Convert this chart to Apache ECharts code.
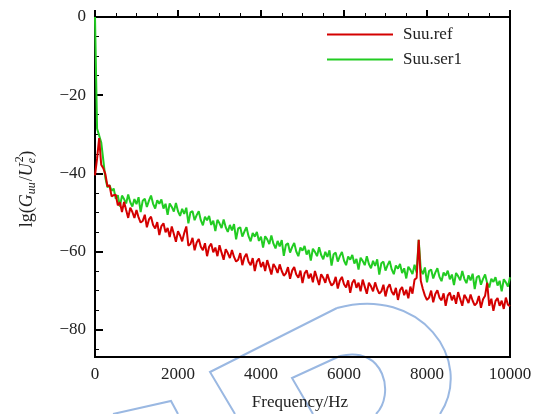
<!DOCTYPE html>
<html>
<head>
<meta charset="utf-8">
<script src="https://cdn.jsdelivr.net/npm/echarts@6/dist/echarts.min.js"></script>
<style>
  html, body { margin: 0; padding: 0; background: #fff; }
  #chart { width: 539px; height: 414px; }
</style>
</head>
<body>
<div id="chart"></div>
<script>
// Spectra sampled every 50 Hz from 0 to 10000 Hz (dB, lg scale)
const FREQ_STEP = 50;
const seriesNames = ['Suu.ref', 'Suu.ser1'];
const xTicks = [0, 2000, 4000, 6000, 8000, 10000];
const yTicks = [0, -20, -40, -60, -80];
const yMinorTicks = [-5, -10, -15, -25, -30, -35, -45, -50, -55, -65, -70, -75, -85];

const suuSer1 = [
  0, -28.6, -30.3, -32.1, -36.6, -41.2, -43.6, -43.0, -44.5, -43.9,
  -46.5, -45.6, -48.5, -45.7, -46.6, -47.7, -45.4, -47.4, -48.5, -46.6,
  -47.9, -46.1, -49.9, -47.0, -46.5, -48.6, -47.0, -45.7, -47.8, -49.0,
  -46.9, -47.8, -46.7, -49.0, -47.8, -50.6, -47.7, -48.6, -49.8, -47.6,
  -49.7, -50.9, -49.1, -50.4, -48.8, -52.8, -50.0, -49.7, -52.0, -50.7,
  -49.7, -52.0, -53.3, -51.1, -52.0, -50.9, -53.2, -52.1, -54.8, -51.9,
  -52.8, -54.0, -51.8, -53.8, -55.0, -53.2, -54.6, -53.0, -56.9, -54.1,
  -53.8, -56.2, -54.9, -53.8, -56.1, -57.4, -55.3, -56.2, -55.0, -57.3,
  -56.2, -59.0, -56.1, -56.9, -58.1, -55.9, -58.0, -59.2, -57.3, -58.7,
  -57.1, -61.1, -58.3, -57.9, -60.3, -58.9, -57.8, -60.0, -61.2, -59.0,
  -59.8, -58.6, -60.8, -59.6, -62.3, -59.3, -60.1, -61.2, -58.9, -60.9,
  -62.0, -60.1, -61.4, -59.7, -63.6, -60.7, -60.3, -62.6, -61.2, -60.1,
  -62.3, -63.5, -61.3, -62.1, -60.9, -63.1, -61.9, -64.6, -61.6, -62.4,
  -63.5, -61.2, -63.2, -64.3, -62.4, -63.7, -62.0, -65.9, -63.0, -62.6,
  -64.9, -63.5, -62.4, -64.6, -65.8, -63.6, -64.4, -63.2, -65.5, -64.3,
  -66.9, -63.9, -64.7, -65.8, -63.4, -65.4, -57.0, -64.5, -65.8, -64.1,
  -67.9, -65.0, -64.6, -66.9, -65.4, -64.3, -66.5, -67.6, -65.4, -66.2,
  -64.9, -67.1, -65.9, -68.6, -65.5, -66.3, -67.4, -65.0, -67.0, -68.1,
  -66.1, -67.4, -65.7, -69.6, -66.6, -66.2, -68.5, -67.0, -65.9, -68.1,
  -69.2, -67.0, -67.8, -66.6, -68.7, -67.5, -70.2, -67.1, -67.9, -69.0,
  -66.6
];

const suuRef = [
  -40.5, -36.2, -31.0, -37.8, -38.7, -40.2, -43.3, -43.1, -45.9, -45.6,
  -45.5, -48.2, -47.4, -49.9, -47.3, -49.4, -51.4, -48.8, -49.9, -51.4,
  -49.4, -51.3, -52.6, -52.2, -50.6, -53.8, -51.8, -51.1, -53.2, -54.1,
  -52.5, -55.8, -53.5, -52.8, -55.1, -54.0, -56.3, -53.6, -55.5, -57.5,
  -54.8, -55.9, -57.4, -55.3, -53.6, -58.5, -58.1, -56.5, -59.7, -57.7,
  -56.8, -58.8, -59.7, -57.9, -61.2, -58.8, -58.0, -60.2, -59.0, -61.2,
  -58.4, -60.3, -62.1, -59.4, -60.4, -61.7, -59.6, -61.4, -62.6, -62.1,
  -60.4, -63.5, -61.5, -60.6, -62.6, -63.5, -61.7, -65.0, -62.6, -61.8,
  -64.0, -62.7, -65.0, -62.2, -64.0, -65.9, -63.2, -64.1, -65.5, -63.3,
  -65.0, -66.2, -65.6, -64.0, -67.0, -64.9, -64.0, -65.9, -66.7, -64.9,
  -68.1, -65.6, -64.8, -66.9, -65.7, -67.9, -65.0, -66.8, -68.6, -65.8,
  -66.7, -68.0, -65.8, -67.5, -68.7, -68.2, -66.5, -69.5, -67.4, -66.5,
  -68.4, -69.2, -67.4, -70.6, -68.0, -67.2, -69.3, -68.0, -70.2, -67.2,
  -69.0, -70.8, -68.0, -68.9, -70.2, -67.9, -69.6, -70.8, -70.2, -68.5,
  -71.5, -69.3, -68.4, -70.3, -71.1, -69.3, -72.4, -69.9, -69.1, -71.2,
  -69.8, -72.0, -69.0, -70.8, -67.2, -66.8, -57.0, -67.5, -69.6, -71.3,
  -72.4, -71.8, -70.0, -73.0, -70.9, -69.9, -71.8, -72.5, -70.7, -73.9,
  -71.3, -70.5, -72.5, -71.2, -73.4, -70.4, -72.2, -73.9, -71.1, -72.0,
  -73.2, -71.0, -72.6, -73.8, -73.2, -71.4, -74.4, -72.2, -71.3, -68.0,
  -73.9, -72.1, -75.2, -72.7, -71.9, -73.9, -72.6, -74.7, -71.8, -73.6,
  -74.0
];

const toPairs = vals => vals.map((v, i) => [i * FREQ_STEP, v]);

const SERIF = '"Liberation Serif", "DejaVu Serif", serif';
const TXT = '#222';
const RED = '#d40000';
const GREEN = '#22cc22';
const minus = v => String(v).replace('-', '\u2212');

const chart = echarts.init(document.getElementById('chart'), null, { renderer: 'canvas' });

// y-axis title lg(G_uu / U_e^2): measured pieces laid out along a rotated group
const ctx = document.createElement('canvas').getContext('2d');
function textWidth(text, size, italic) {
  ctx.font = (italic ? 'italic ' : '') + size + 'px ' + SERIF;
  return ctx.measureText(text).width;
}
const BIG = 18, SMALL = 12;
const titleParts = [
  { t: 'lg(', s: BIG, i: false, dy: 0 },
  { t: 'G', s: BIG, i: true, dy: 0 },
  { t: 'uu', s: SMALL, i: true, dy: 5 },
  { t: '/', s: BIG, i: false, dy: 0, pre: 1 },
  { t: 'U', s: BIG, i: true, dy: 0 },
  { t: 'e', s: SMALL, i: true, dy: 5, stackWith: '2' },
  { t: ')', s: BIG, i: false, dy: 0, pre: 1 }
];
let total = 0;
titleParts.forEach(p => { p.w = textWidth(p.t, p.s, p.i) + (p.pre || 0); total += p.w; });
let cx = -total / 2;
const titleChildren = [];
titleParts.forEach(p => {
  titleChildren.push({
    type: 'text',
    x: cx + (p.pre || 0), y: p.dy,
    style: { text: p.t, font: (p.i ? 'italic ' : '') + p.s + 'px ' + SERIF,
             fill: TXT, textVerticalAlign: 'middle', textAlign: 'left' }
  });
  if (p.stackWith) {
    titleChildren.push({
      type: 'text',
      x: cx + 1, y: -7,
      style: { text: p.stackWith, font: SMALL + 'px ' + SERIF,
               fill: TXT, textVerticalAlign: 'middle', textAlign: 'left' }
    });
  }
  cx += p.w;
});

const wm = { stroke: '#9ab8e2', lineWidth: 2, fill: null };

chart.setOption({
  animation: false,
  backgroundColor: '#fff',
  grid: { left: 95, right: 29, top: 17, bottom: 57, show: true,
          borderColor: '#000', borderWidth: 2, backgroundColor: 'transparent' },
  legend: {
    orient: 'vertical', left: 327, top: 26, padding: 0,
    icon: 'rect', itemWidth: 66, itemHeight: 2, itemGap: 8,
    data: seriesNames,
    textStyle: { fontFamily: SERIF, fontSize: 17, lineHeight: 17, color: TXT, padding: [0, 0, 0, 5] }
  },
  xAxis: {
    type: 'value', min: 0, max: 10000, interval: 2000,
    axisLine: { show: true, lineStyle: { color: '#000', width: 2 } },
    axisTick: { show: true, inside: true, length: 7, lineStyle: { color: '#000', width: 2 } },
    minorTick: { show: true, splitNumber: 4, length: 4, lineStyle: { color: '#000', width: 1 } },
    splitLine: { show: false },
    axisLabel: { fontFamily: SERIF, fontSize: 17, color: TXT, margin: 9,
                 customValues: xTicks, formatter: v => minus(v) }
  },
  yAxis: [
    {
      type: 'value', min: -87, max: 0,
      axisLine: { show: true, lineStyle: { color: '#000', width: 2 } },
      axisTick: { show: true, inside: true, length: 8, customValues: yTicks,
                  lineStyle: { color: '#000', width: 2 } },
      splitLine: { show: false },
      axisLabel: { fontFamily: SERIF, fontSize: 17, color: TXT, margin: 9,
                   customValues: yTicks, formatter: v => minus(v) }
    },
    {
      type: 'value', min: -87, max: 0, position: 'left',
      axisLine: { show: false },
      axisTick: { show: true, inside: true, length: 4, customValues: yMinorTicks,
                  lineStyle: { color: '#000', width: 1 } },
      axisLabel: { show: false },
      splitLine: { show: false }
    }
  ],
  series: [
    {
      name: 'Suu.ser1', type: 'line', data: toPairs(suuSer1), z: 2,
      symbol: 'none', sampling: null,
      lineStyle: { color: GREEN, width: 2 }, itemStyle: { color: GREEN }
    },
    {
      name: 'Suu.ref', type: 'line', data: toPairs(suuRef), z: 3,
      symbol: 'none', sampling: null,
      lineStyle: { color: RED, width: 2 }, itemStyle: { color: RED }
    }
  ],
  graphic: [
    {
      type: 'text', x: 300, y: 403,
      style: { text: 'Frequency/Hz', font: '17px ' + SERIF, fill: TXT,
               textAlign: 'center', textVerticalAlign: 'middle' }
    },
    {
      type: 'group', x: 27, y: 189, rotation: Math.PI / 2,
      children: titleChildren
    },
    // light blue decorative strokes near the bottom
    { type: 'polyline', silent: true, z: -1,
      shape: { points: [[235, 414], [210, 372], [337, 308]] }, style: wm },
    { type: 'bezierCurve', silent: true, z: -1,
      shape: { x1: 337, y1: 308, cpx1: 420, cpy1: 285, x2: 440, y2: 414, cpx2: 475, cpy2: 360 }, style: wm },
    { type: 'polyline', silent: true, z: -1,
      shape: { points: [[313, 414], [292, 378], [340, 356]] }, style: wm },
    { type: 'bezierCurve', silent: true, z: -1,
      shape: { x1: 340, y1: 356, cpx1: 385, cpy1: 345, x2: 376, y2: 414, cpx2: 395, cpy2: 395 }, style: wm },
    { type: 'polyline', silent: true, z: -1,
      shape: { points: [[113, 414], [171, 401], [178, 414]] }, style: wm }
  ]
});
</script>
</body>
</html>
